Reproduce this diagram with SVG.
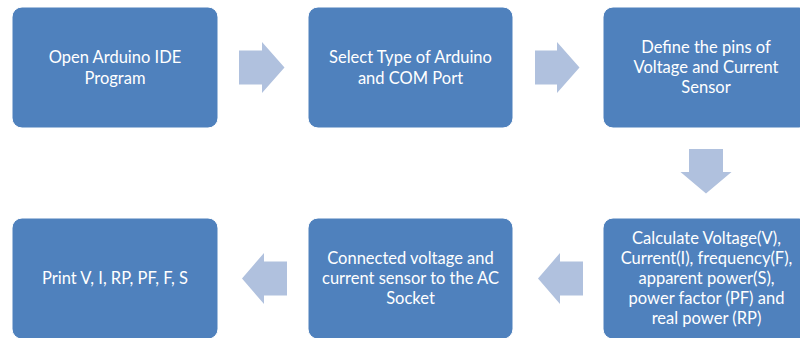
<svg xmlns="http://www.w3.org/2000/svg" width="800" height="338" viewBox="0 0 800 338">
  <style>
    .box { fill: #4F81BD; stroke: #FFFFFF; stroke-width: 1; }
    .arrow { fill: #B0C1DE; }
    .label { fill: #FFFFFF; font-family: Lato, "Open Sans", "Liberation Sans", sans-serif; font-size: 16.5px; text-anchor: middle; }
  </style>
  <rect width="800" height="338" fill="#FFFFFF"/>

  <!-- flow arrows -->
  <g id="connectors">
    <polygon class="arrow" points="239,50.5 262,50.5 262,42 284.5,67.5 262,93 262,84.5 239,84.5"/>
    <polygon class="arrow" points="535,50.5 557,50.5 557,42 579.5,67.5 557,93 557,84.5 535,84.5"/>
    <polygon class="arrow" points="689,149 723,149 723,172 731.5,172 706,193.5 680.5,172 689,172"/>
    <polygon class="arrow" points="583,261.5 560,261.5 560,253 538,278.5 560,304 560,295.5 583,295.5"/>
    <polygon class="arrow" points="287,261.5 264,261.5 264,253 242,278.5 264,304 264,295.5 287,295.5"/>
  </g>

  <g id="open-ide">
    <rect class="box" x="12" y="7" width="206" height="121" rx="10"/>
    <text class="label" x="115" y="63">Open Arduino IDE<tspan x="115" dy="20.5">Program</tspan></text>
  </g>

  <g id="select-board">
    <rect class="box" x="308" y="7" width="205" height="121" rx="10"/>
    <text class="label" x="410.5" y="63">Select Type of Arduino<tspan x="410.5" dy="20.5">and COM Port</tspan></text>
  </g>

  <g id="define-pins">
    <rect class="box" x="603" y="7" width="206" height="121" rx="10"/>
    <text class="label" x="706" y="53">Define the pins of<tspan x="706" dy="20">Voltage and Current</tspan><tspan x="706" dy="20">Sensor</tspan></text>
  </g>

  <g id="calculate">
    <rect class="box" x="603" y="218" width="206" height="121" rx="10"/>
    <text class="label" x="706.5" y="243.5">Calculate Voltage(V),<tspan x="706.5" dy="20">Current(I), frequency(F),</tspan><tspan x="706.5" dy="20">apparent power(S),</tspan><tspan x="706.5" dy="20">power factor (PF) and</tspan><tspan x="706.5" dy="20">real power (RP)</tspan></text>
  </g>

  <g id="connect-sensors">
    <rect class="box" x="308" y="218" width="205" height="121" rx="10"/>
    <text class="label" x="410.5" y="263.5">Connected voltage and<tspan x="410.5" dy="20">current sensor to the AC</tspan><tspan x="410.5" dy="20">Socket</tspan></text>
  </g>

  <g id="print-values">
    <rect class="box" x="12" y="218" width="206" height="121" rx="10"/>
    <text class="label" x="115" y="283.5">Print V, I, RP, PF, F, S</text>
  </g>
</svg>
